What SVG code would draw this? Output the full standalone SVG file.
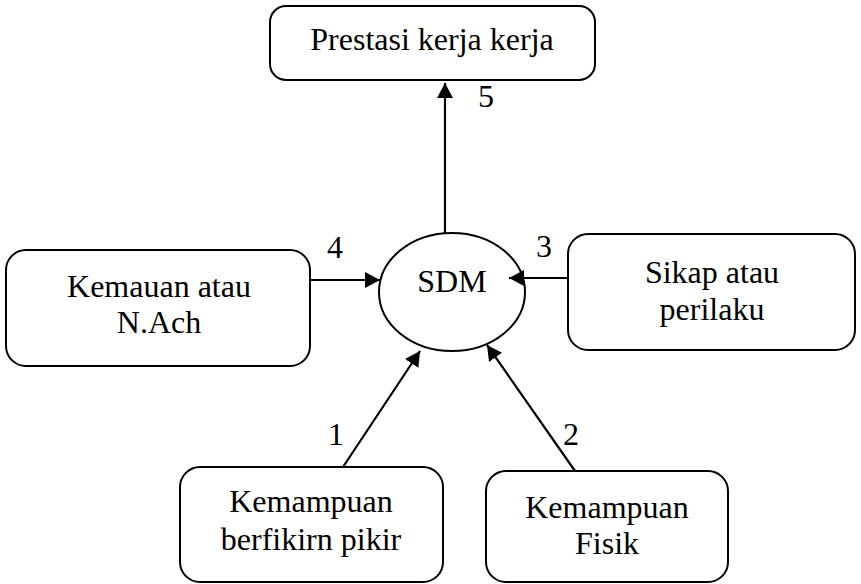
<svg xmlns="http://www.w3.org/2000/svg" width="861" height="584" viewBox="0 0 861 584">
  <style>
    .box { fill: #ffffff; stroke: #000000; stroke-width: 2; }
    .lbl { font-family: "Liberation Serif", "Times New Roman", serif; font-size: 32px; fill: #000000; text-anchor: middle; }
    .num { font-family: "Liberation Serif", "Times New Roman", serif; font-size: 32px; fill: #000000; }
    .edge { stroke: #000000; stroke-width: 2.2; fill: none; marker-end: url(#head); }
  </style>
  <defs>
    <marker id="head" markerUnits="userSpaceOnUse" markerWidth="16" markerHeight="16" refX="15" refY="8" orient="auto">
      <path d="M0,0 L15,8 L0,16 z" fill="#000000"/>
    </marker>
  </defs>
  <rect width="861" height="584" fill="#ffffff"/>

  <g id="prestasi">
    <rect class="box" x="270" y="6" width="325" height="74" rx="16"/>
    <text class="lbl" x="432" y="50">Prestasi kerja kerja</text>
  </g>

  <g id="sdm">
    <ellipse class="box" cx="452" cy="292" rx="73" ry="59"/>
    <text class="lbl" x="452" y="292" font-size="28">SDM</text>
  </g>

  <g id="kemauan">
    <rect class="box" x="6" y="250" width="304" height="116" rx="20"/>
    <text class="lbl" x="159" y="297">Kemauan atau</text>
    <text class="lbl" x="159" y="333">N.Ach</text>
  </g>

  <g id="sikap">
    <rect class="box" x="568" y="234" width="287" height="116" rx="20"/>
    <text class="lbl" x="712" y="283">Sikap atau</text>
    <text class="lbl" x="712" y="320">perilaku</text>
  </g>

  <g id="berfikir">
    <rect class="box" x="180" y="467" width="263" height="115" rx="20"/>
    <text class="lbl" x="311" y="512">Kemampuan</text>
    <text class="lbl" x="311" y="550">berfikirn pikir</text>
  </g>

  <g id="fisik">
    <rect class="box" x="486" y="471" width="242" height="111" rx="20"/>
    <text class="lbl" x="607" y="518">Kemampuan</text>
    <text class="lbl" x="607" y="554">Fisik</text>
  </g>

  <!-- connectors, drawn over the nodes so the arrowheads stay visible -->
  <g id="connectors">
    <line class="edge" x1="445" y1="233" x2="445" y2="83"/>
    <line class="edge" x1="310" y1="280" x2="380" y2="280"/>
    <line class="edge" x1="568" y1="278" x2="509" y2="278"/>
    <line class="edge" x1="343" y1="467" x2="420" y2="351"/>
    <line class="edge" x1="575" y1="471" x2="487" y2="345"/>
    <text class="num" x="478" y="107">5</text>
    <text class="num" x="327" y="258">4</text>
    <text class="num" x="536" y="257">3</text>
    <text class="num" x="328" y="445">1</text>
    <text class="num" x="563" y="445">2</text>
  </g>
</svg>
